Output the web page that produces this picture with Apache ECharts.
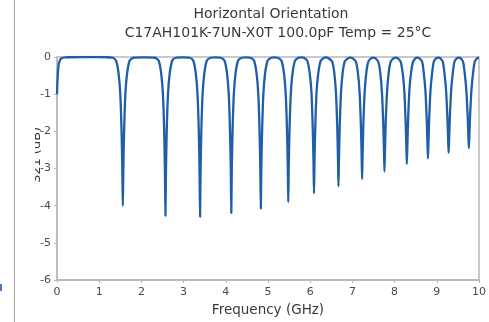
<!DOCTYPE html>
<html>
<head>
<meta charset="utf-8">
<script src="https://cdn.jsdelivr.net/npm/echarts@6/dist/echarts.min.js"></script>
<style>
  html, body { margin: 0; padding: 0; background: #fff; }
  #chart { width: 489px; height: 322px; }
</style>
</head>
<body>
<div id="chart"></div>
<script>
// titles / axis text
var titleLines = ['Horizontal Orientation', 'C17AH101K-7UN-X0T 100.0pF Temp = 25°C']
var xTicks = [0, 1, 2, 3, 4, 5, 6, 7, 8, 9, 10]
var yTicks = [0, -1, -2, -3, -4, -5, -6]

// low-frequency roll-off at the start of the sweep [GHz, dB]
var rolloff = [[0, -1.0], [0.02, -0.45], [0.05, -0.15], [0.1, -0.04], [0.2, -0.01], [0.6, 0], [1.0, 0]]

// the notches, one row per dip [GHz, dB]
var notches = [
    [[1.31, -0.02], [1.40, -0.1], [1.46, -0.45], [1.50, -1.0], [1.53, -2.0], [1.548, -3.0], [1.56, -4.0], [1.572, -3.0], [1.59, -2.0], [1.62, -1.0], [1.66, -0.45], [1.72, -0.1], [1.81, -0.02], [2.06, -0.01]],
    [[2.32, -0.02], [2.41, -0.1], [2.47, -0.45], [2.51, -1.0], [2.54, -2.0], [2.558, -3.1], [2.57, -4.27], [2.582, -3.1], [2.60, -2.0], [2.63, -1.0], [2.67, -0.45], [2.73, -0.1], [2.82, -0.02], [2.98, -0.01]],
    [[3.14, -0.02], [3.23, -0.1], [3.29, -0.45], [3.33, -1.0], [3.36, -2.0], [3.378, -3.1], [3.39, -4.3], [3.402, -3.1], [3.42, -2.0], [3.45, -1.0], [3.49, -0.45], [3.55, -0.1], [3.64, -0.02], [3.76, -0.01]],
    [[3.88, -0.02], [3.97, -0.1], [4.03, -0.45], [4.07, -1.0], [4.10, -2.0], [4.118, -3.0], [4.13, -4.2], [4.142, -3.0], [4.16, -2.0], [4.19, -1.0], [4.23, -0.45], [4.29, -0.1], [4.38, -0.02], [4.48, -0.01]],
    [[4.58, -0.02], [4.67, -0.1], [4.73, -0.45], [4.77, -1.0], [4.80, -2.0], [4.818, -3.0], [4.83, -4.08], [4.842, -3.0], [4.86, -2.0], [4.89, -1.0], [4.93, -0.45], [4.99, -0.1], [5.08, -0.02], [5.155, -0.01]],
    [[5.23, -0.02], [5.32, -0.1], [5.38, -0.45], [5.42, -1.0], [5.45, -1.95], [5.468, -2.9], [5.48, -3.9], [5.492, -2.9], [5.51, -1.95], [5.54, -1.0], [5.58, -0.45], [5.64, -0.1], [5.72, -0.02], [5.785, -0.01]],
    [[5.85, -0.02], [5.93, -0.1], [5.99, -0.45], [6.03, -0.95], [6.06, -1.9], [6.078, -2.8], [6.09, -3.67], [6.102, -2.8], [6.12, -1.9], [6.15, -0.95], [6.19, -0.45], [6.25, -0.1], [6.33, -0.02], [6.38, -0.01]],
    [[6.43, -0.03], [6.52, -0.12], [6.57, -0.42], [6.61, -0.95], [6.64, -1.85], [6.658, -2.7], [6.67, -3.48], [6.682, -2.7], [6.70, -1.85], [6.73, -0.95], [6.77, -0.42], [6.82, -0.12], [6.90, -0.03], [6.95, -0.015]],
    [[7.00, -0.03], [7.08, -0.12], [7.13, -0.42], [7.17, -0.95], [7.20, -1.8], [7.218, -2.6], [7.23, -3.28], [7.242, -2.6], [7.26, -1.8], [7.29, -0.95], [7.33, -0.42], [7.38, -0.12], [7.45, -0.03], [7.495, -0.015]],
    [[7.54, -0.03], [7.61, -0.12], [7.66, -0.42], [7.70, -0.95], [7.73, -1.75], [7.748, -2.5], [7.76, -3.08], [7.772, -2.5], [7.79, -1.75], [7.82, -0.95], [7.86, -0.42], [7.91, -0.12], [7.98, -0.03], [8.025, -0.015]],
    [[8.07, -0.03], [8.14, -0.12], [8.19, -0.42], [8.23, -0.9], [8.26, -1.7], [8.278, -2.4], [8.29, -2.88], [8.302, -2.4], [8.32, -1.7], [8.35, -0.9], [8.39, -0.42], [8.44, -0.12], [8.50, -0.03], [8.54, -0.015]],
    [[8.58, -0.03], [8.65, -0.12], [8.69, -0.42], [8.73, -0.9], [8.76, -1.65], [8.778, -2.3], [8.79, -2.73], [8.802, -2.3], [8.82, -1.65], [8.85, -0.9], [8.89, -0.42], [8.93, -0.12], [8.99, -0.03], [9.035, -0.015]],
    [[9.08, -0.03], [9.14, -0.12], [9.18, -0.42], [9.22, -0.9], [9.25, -1.6], [9.268, -2.2], [9.28, -2.58], [9.292, -2.2], [9.31, -1.6], [9.34, -0.9], [9.38, -0.42], [9.42, -0.12], [9.48, -0.03], [9.52, -0.015]],
    [[9.56, -0.03], [9.62, -0.12], [9.66, -0.42], [9.70, -0.9], [9.73, -1.55], [9.748, -2.1], [9.76, -2.45], [9.772, -2.1], [9.79, -1.55], [9.82, -0.9], [9.86, -0.42], [9.90, -0.12], [9.96, -0.03], [10, -0.02]]
]

var s21 = rolloff.concat.apply(rolloff, notches)

var font = 'DejaVu Sans'
var chart = echarts.init(document.getElementById('chart'))
var option = {
    animation: false,
    title: [
        { text: titleLines[0], left: 266, top: 2, textAlign: 'center',
          textStyle: { fontFamily: font, fontSize: 14, fontWeight: 'normal', color: '#3a3a3a' } },
        { text: titleLines[1], left: 273, top: 21, textAlign: 'center',
          textStyle: { fontFamily: font, fontSize: 14, fontWeight: 'normal', color: '#3a3a3a' } }
    ],
    grid: {
        left: 57, right: 8, top: 57, bottom: 39,
        show: true, borderColor: '#b8b8b8', borderWidth: 1.5
    },
    xAxis: {
        type: 'value', min: 0, max: 10, interval: 1,
        name: 'Frequency (GHz)', nameLocation: 'middle', nameGap: 21,
        nameTextStyle: { fontFamily: font, fontSize: 13.5, color: '#3a3a3a' },
        axisLine: { show: true, onZero: false, lineStyle: { color: '#b8b8b8', width: 1.5 } },
        axisTick: { show: true, length: 3, lineStyle: { color: '#b8b8b8' } },
        axisLabel: { fontFamily: font, fontSize: 11, color: '#4a4a4a', margin: 7,
            formatter: function (v) { return xTicks.indexOf(v) > -1 ? String(v) : '' } },
        splitLine: { show: false }
    },
    yAxis: {
        type: 'value', min: -6, max: 0, interval: 1,
        axisLine: { show: true, onZero: false, lineStyle: { color: '#b8b8b8', width: 1.5 } },
        axisTick: { show: true, length: 3, lineStyle: { color: '#b8b8b8' } },
        axisLabel: { fontFamily: font, fontSize: 11, color: '#4a4a4a', margin: 6,
            formatter: function (v) { return yTicks.indexOf(v) > -1 ? String(v) : '' } },
        splitLine: { show: false }
    },
    graphic: [
        // y axis title, its upper half is cut off in the reference
        { type: 'text', x: 37, y: 155, rotation: Math.PI / 2,
          style: { text: 'S21 (dB)', font: '13px "DejaVu Sans"', fill: '#3a3a3a',
                   textAlign: 'center', textVerticalAlign: 'middle' }, z: 10 },
        { type: 'rect', shape: { x: 15, y: 90, width: 20, height: 130 }, style: { fill: '#fff' }, z: 11 },
        { type: 'line', shape: { x1: 14.5, y1: 0, x2: 14.5, y2: 322 }, style: { stroke: '#a0a0a0', lineWidth: 1 }, z: 12 },
        { type: 'rect', shape: { x: 0, y: 284, width: 2, height: 7 }, style: { fill: '#4a78b8' }, z: 12 }
    ],
    series: [{
        type: 'line',
        data: s21,
        smooth: 0.25,
        showSymbol: false,
        lineStyle: { color: '#1f5ea8', width: 2.3 },
        color: '#1f5ea8'
    }]
}
chart.setOption(option)
</script>
</body>
</html>
